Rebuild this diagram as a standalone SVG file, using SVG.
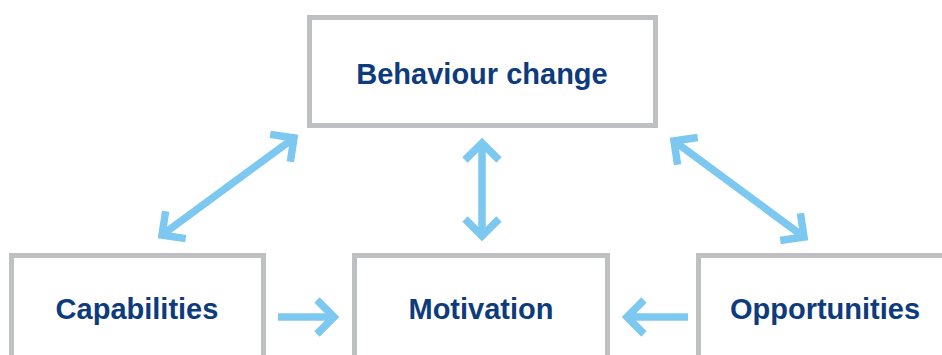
<svg xmlns="http://www.w3.org/2000/svg" width="942" height="355" viewBox="0 0 942 355">
<style>
.box{fill:#fff;stroke:#bfc0c2;stroke-width:5}
.lbl{font-family:"Liberation Sans",Arial,sans-serif;font-weight:bold;font-size:29px;fill:#0d3b7c;text-anchor:middle}
.arr{stroke:#7dc8f0;stroke-width:7.5;fill:none}
</style>
<defs>
<marker id="chev" markerUnits="userSpaceOnUse" viewBox="-30 -30 40 60" refX="0" refY="0" markerWidth="40" markerHeight="60" orient="auto-start-reverse">
<path d="M-17,-17 L0,0 L-17,17" fill="none" stroke="#7dc8f0" stroke-width="7.5" stroke-linejoin="miter"/>
</marker>
</defs>
<rect width="942" height="355" fill="#fff"/>
<g id="behaviour">
<rect class="box" x="309.5" y="17.5" width="346" height="108"/>
<text class="lbl" x="482" y="84">Behaviour change</text>
</g>
<g id="capabilities">
<rect class="box" x="11.5" y="255.5" width="252" height="110"/>
<text class="lbl" x="137" y="319">Capabilities</text>
</g>
<g id="motivation">
<rect class="box" x="354.5" y="255.5" width="253" height="110"/>
<text class="lbl" x="481" y="319">Motivation</text>
</g>
<g id="opportunities">
<rect class="box" x="698.5" y="255.5" width="260" height="110"/>
<text class="lbl" x="825" y="319">Opportunities</text>
</g>
<g id="connectors">
<line class="arr" x1="162" y1="235" x2="294" y2="138" marker-start="url(#chev)" marker-end="url(#chev)"/>
<line class="arr" x1="482" y1="143" x2="482" y2="236" marker-start="url(#chev)" marker-end="url(#chev)"/>
<line class="arr" x1="674" y1="141" x2="804" y2="237" marker-start="url(#chev)" marker-end="url(#chev)"/>
<line class="arr" x1="278" y1="317" x2="334" y2="317" marker-end="url(#chev)"/>
<line class="arr" x1="688" y1="317" x2="627" y2="317" marker-end="url(#chev)"/>
</g>
</svg>
